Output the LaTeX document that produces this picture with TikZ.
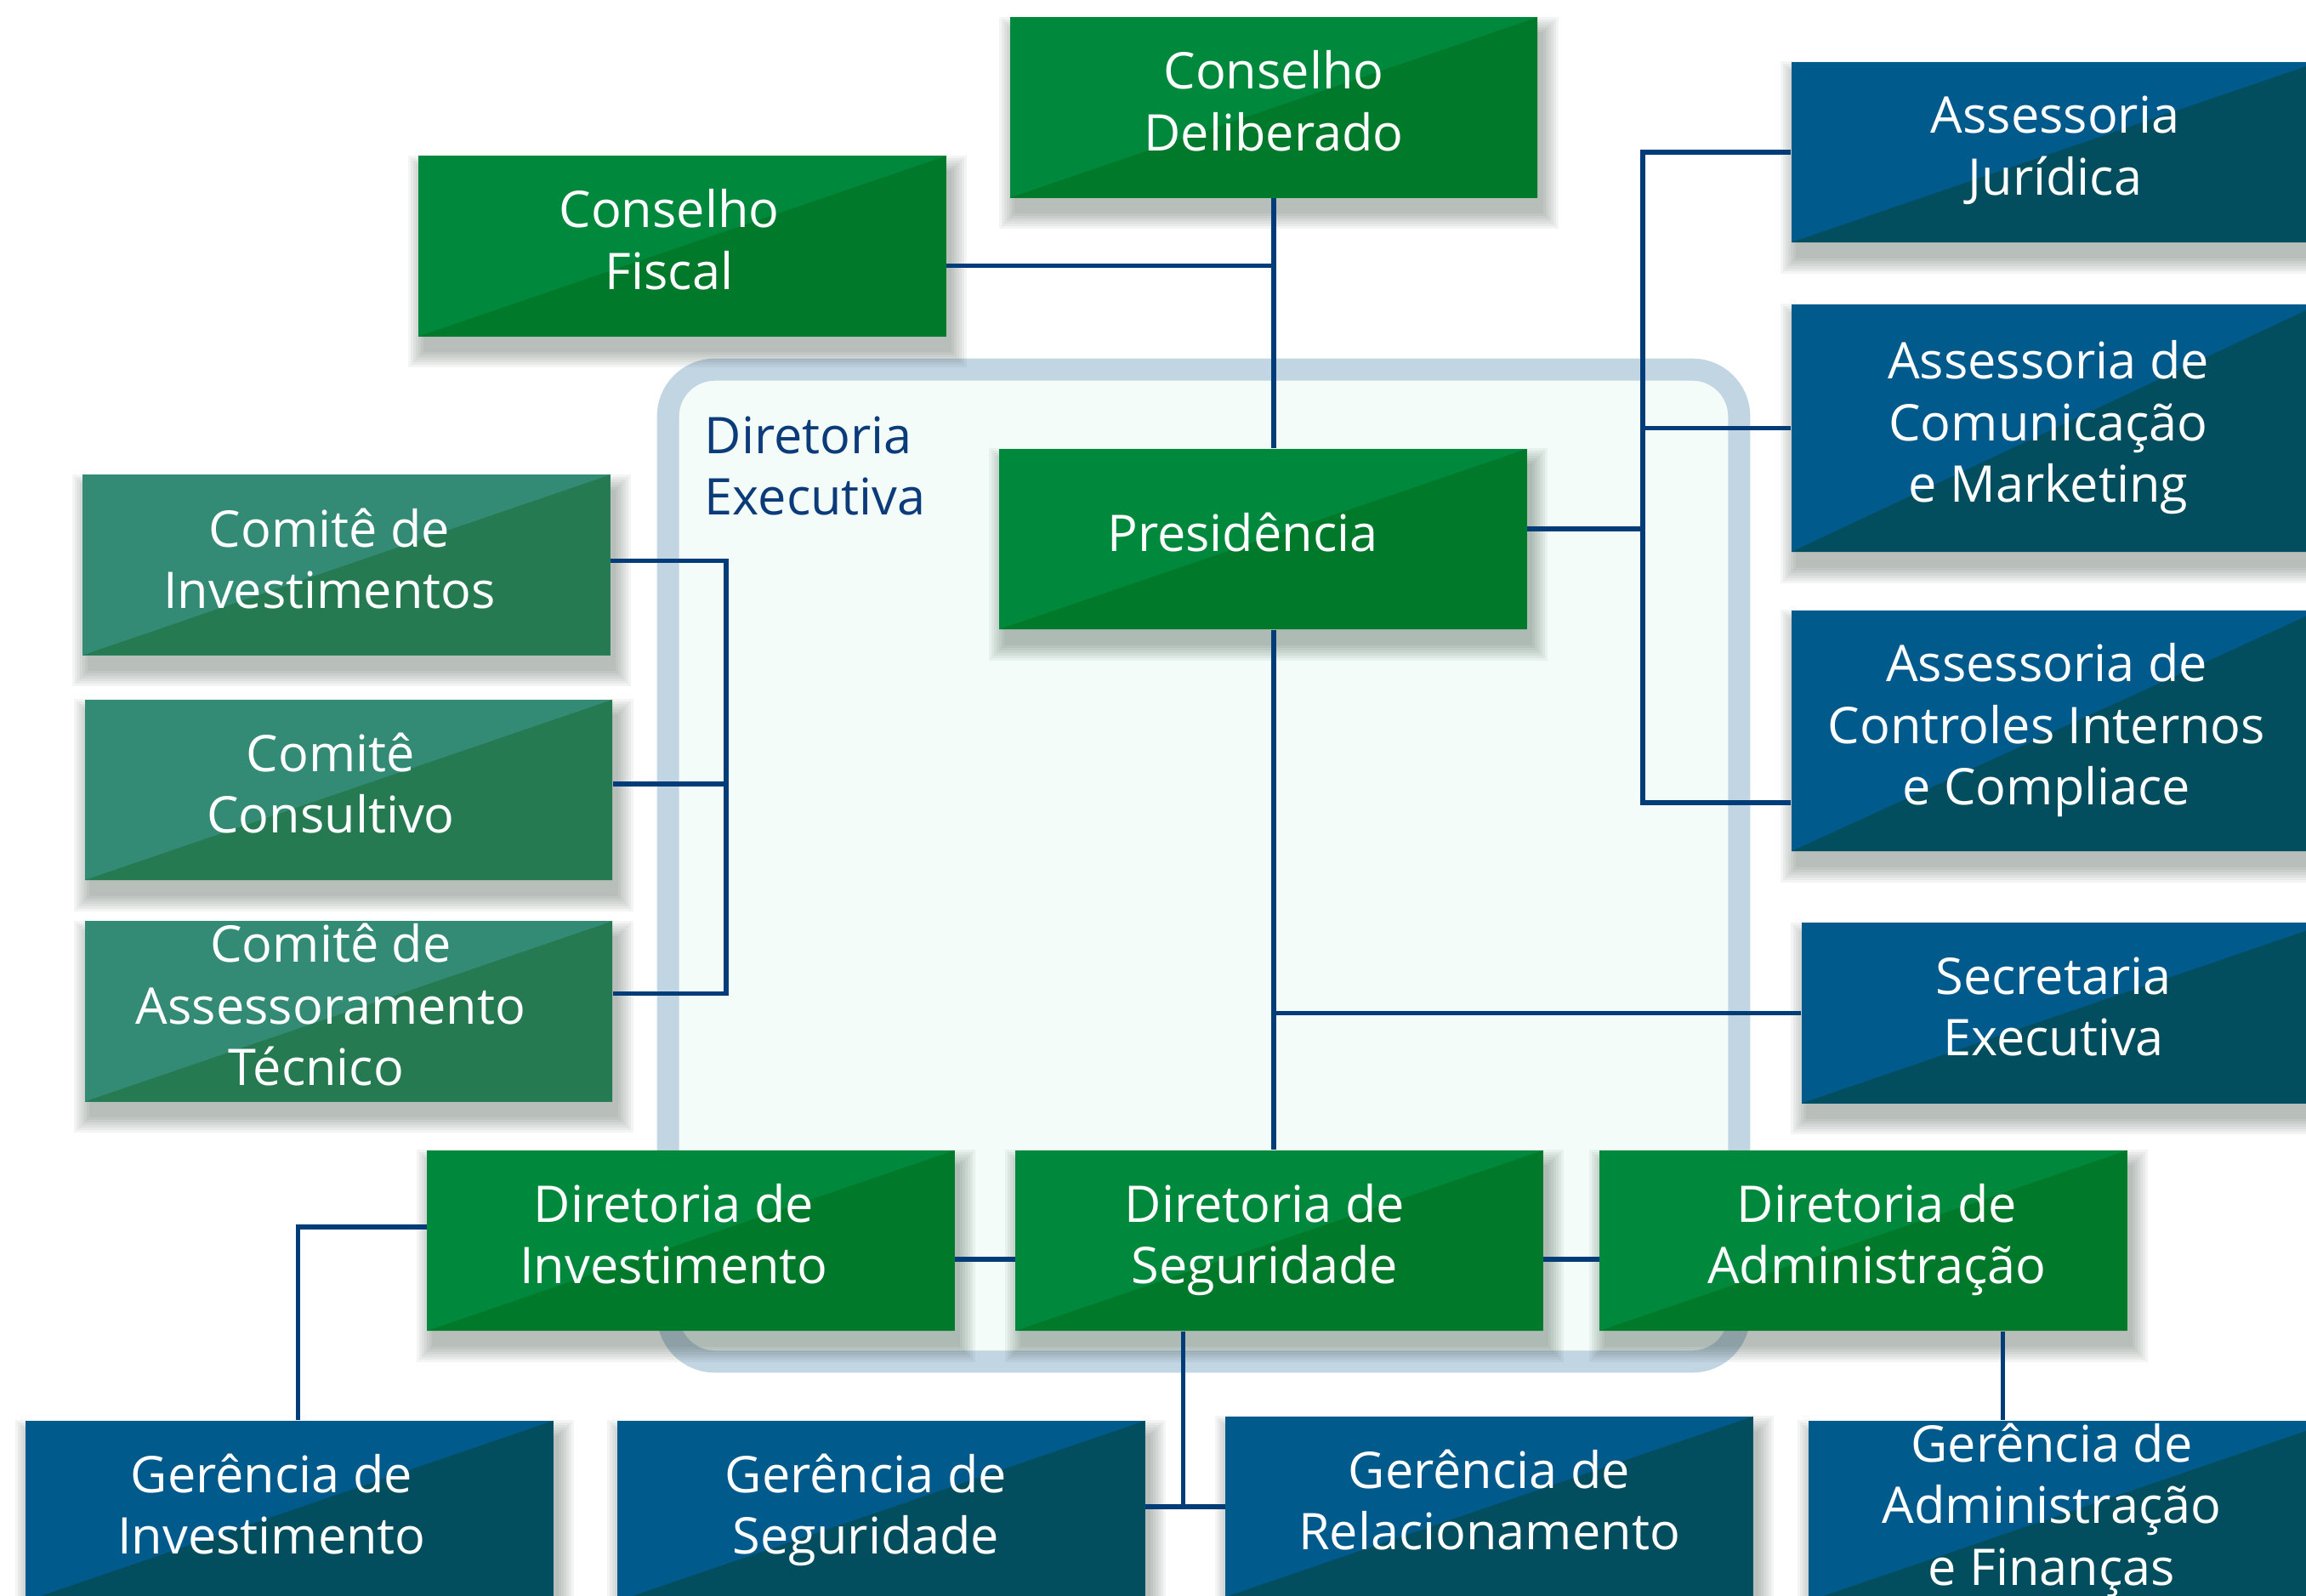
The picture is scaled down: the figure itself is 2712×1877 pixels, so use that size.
\documentclass[tikz,border=0pt]{standalone}
\usepackage{fontspec}
\setmainfont{Open Sans}
\usepackage{tikz}
\usetikzlibrary{calc,backgrounds}
\newcommand{\orgfont}{\fontsize{16.9}{20.6}\selectfont}
\definecolor{grnA}{RGB}{0,136,60}
\definecolor{grnB}{RGB}{0,122,42}
\definecolor{tealA}{RGB}{51,138,117}
\definecolor{tealB}{RGB}{37,122,82}
\definecolor{bluA}{RGB}{0,90,140}
\definecolor{bluB}{RGB}{3,78,94}
\definecolor{wire}{RGB}{0,60,120}
\definecolor{frame}{RGB}{194,213,227}
\definecolor{mint}{RGB}{243,252,248}
\definecolor{navy}{RGB}{12,59,122}
\definecolor{dusk}{RGB}{40,60,50}
\tikzset{
  unit/.style={minimum width=6.2cm, minimum height=2.12cm, inner sep=0pt},
  txt/.style={text=white, font=\orgfont, align=center, inner sep=0pt,
              execute at end node={\rule[-1.6mm]{0pt}{0pt}}},
  split/.style 2 args={unit, fill=#1,
               path picture={\fill[#2] (path picture bounding box.south west)
                 -- (path picture bounding box.north east) |- cycle;}},
  board/.style={split={grnA}{grnB}},
  cmte/.style={split={tealA}{tealB}},
  staff/.style={split={bluA}{bluB}},
  dropfill/.style={fill=dusk, fill opacity=0.055},
  execframe/.style={draw=frame, line width=7.4pt, fill=mint, rounded corners=0.55cm,
                    minimum width=12.59cm, minimum height=11.66cm},
  execlbl/.style={text=navy, font=\orgfont, align=left, inner sep=0pt, anchor=north west},
  link/.style={draw=wire, line width=1.6pt},
}

\begin{document}
\begin{tikzpicture}[x=0.01cm, y=-0.01cm]
  \useasboundingbox (0,0) rectangle (2712,1877);
  \begin{scope}[on background layer]
    \node[execframe] (dx) at (1415.5,1018) {};
  \end{scope}
  \node[execlbl] (dxlbl) at (828,489) {Diretoria\\Executiva};

  \node[board, label={[txt]center:{Conselho\\Deliberado}}] (cd) at (1498,126.5) {};
  \node[board, label={[txt,xshift=-1.55mm]center:{Conselho\\Fiscal}}] (cf) at (802.5,289.5) {};
  \node[board, label={[txt,xshift=-2.4mm]center:{Presidência}}] (pres) at (1485.5,634) {};
  \node[staff, label={[txt]center:{Assessoria\\Jurídica}}] (aj) at (2417,179) {};
  \node[staff, minimum height=2.91cm,
        label={[txt,xshift=-0.8mm]center:{Assessoria de\\Comunicação\\e Marketing}}] (acm) at (2417,503.5) {};
  \node[staff, minimum height=2.83cm,
        label={[txt,xshift=-1mm]center:{Assessoria de\\Controles Internos\\e Compliace}}] (aci) at (2417,859.5) {};
  \node[staff, label={[txt,xshift=-1.4mm]center:{Secretaria\\Executiva}}] (sec) at (2429,1191.5) {};
  \node[cmte, label={[txt,xshift=-2mm]center:{Comitê de\\Investimentos}}] (ci) at (407.5,664.5) {};
  \node[cmte, label={[txt,xshift=-2.1mm]center:{Comitê\\Consultivo}}] (cc) at (410,929) {};
  \node[cmte, label={[txt,xshift=-2.1mm]center:{Comitê de\\Assessoramento\\Técnico\hspace*{3.4mm}}}] (cat) at (410,1189.5) {};
  \node[board, label={[txt,xshift=-2mm]center:{Diretoria de\\Investimento}}] (dinv) at (812.5,1459) {};
  \node[board, label={[txt,xshift=-1.7mm]center:{Diretoria de\\Seguridade}}] (dseg) at (1504.5,1459) {};
  \node[board, label={[txt,xshift=1.6mm]center:{Diretoria de\\Administração}}] (dadm) at (2191.5,1459) {};
  \node[staff, label={[txt,xshift=-2.1mm]center:{Gerência de\\Investimento}}] (ginv) at (340.5,1777) {};
  \node[staff, label={[txt,xshift=-1.8mm]center:{Gerência de\\Seguridade}}] (gseg) at (1036.5,1777) {};
  \node[staff, label={[txt]center:{Gerência de\\Relacionamento}}] (grel) at (1751.5,1772) {};
  \node[staff, label={[txt,xshift=-2.4mm]center:{Gerência de\\Administração\\e Finanças}}] (gadm) at (2437,1777) {};

  \begin{scope}[on background layer]
    \foreach \n in {cd,cf,pres,aj,acm,aci,sec,ci,cc,cat,dinv,dseg,dadm,ginv,gseg,grel,gadm}
      \foreach \r in {0,0.3,...,2.1}
        \fill[dropfill] ([xshift={(0.6-\r)*1mm}, yshift={(-1.8-\r)*1mm}]\n.south west)
          rectangle ([xshift={(0.6+\r)*1mm}, yshift={(-1.8+\r)*1mm}]\n.north east);
  \end{scope}

  \coordinate (abus) at (1932,0);
  \coordinate (cbus) at (854,0);
  \coordinate (cfout) at ([yshift=-2.3mm]cf.east);
  \coordinate (presout) at ([yshift=1.2mm]pres.east);
  \coordinate (aciin) at ([yshift=-8.45mm]aci.west);
  \coordinate (ciout) at ([yshift=0.5mm]ci.east);
  \coordinate (ccout) at ([yshift=0.7mm]cc.east);
  \coordinate (catout) at ([yshift=2.1mm]cat.east);
  \coordinate (sbus) at ([xshift=-11.3mm]dseg.south);
  \coordinate (dabus) at ([xshift=16.4mm]dadm.south);

  \draw[link] (cd.south) -- (cd.south |- pres.north);
  \draw[link] (cfout) -- (cfout -| cd.south);
  \draw[link] (presout) -- (presout -| abus);
  \draw[link] (aj.west) -- (aj.west -| abus) -- (aciin -| abus) -- (aciin);
  \draw[link] (acm.west) -- (acm.west -| abus);
  \draw[link] (cd.south |- pres.south) -- (cd.south |- dseg.north);
  \draw[link] (sec.west) -- (sec.west -| cd.south);
  \draw[link] (ciout) -- (ciout -| cbus) -- (catout -| cbus) -- (catout);
  \draw[link] (ccout) -- (ccout -| cbus);
  \draw[link] ([yshift=-2.2mm]dinv.east) -- ([yshift=-2.2mm]dseg.west);
  \draw[link] ([yshift=-2.2mm]dseg.east) -- ([yshift=-2.2mm]dadm.west);
  \draw[link] ([yshift=1.6mm]dinv.west) -| ([xshift=1mm]ginv.north);
  \draw[link] (sbus) -- (sbus |- grel.west);
  \draw[link] (gseg.east |- grel.west) -- (grel.west);
  \draw[link] (dabus) -- (dabus |- gadm.north);
\end{tikzpicture}
\end{document}
